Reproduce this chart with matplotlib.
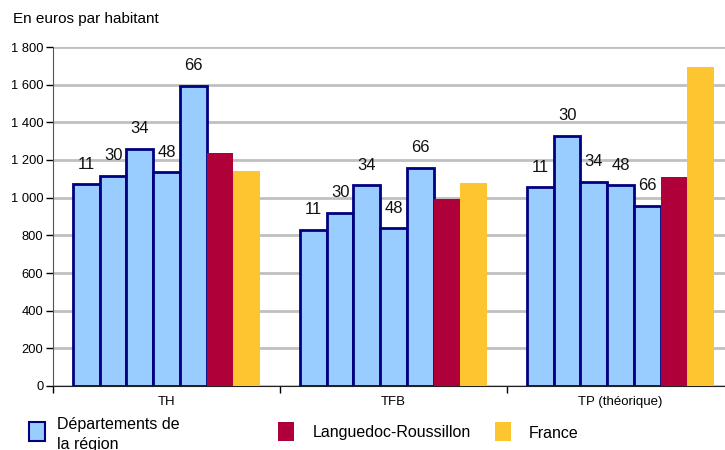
import numpy as np
import matplotlib
matplotlib.use("Agg")
import matplotlib.pyplot as plt
from matplotlib import ticker
from matplotlib.patches import Rectangle

# data
categories = ["TH", "TFB", "TP (théorique)"]
dept_codes = ["11", "30", "34", "48", "66"]
dept_values = [
    [1070, 1115, 1260, 1135, 1595],   # TH
    [830, 918, 1066, 838, 1157],      # TFB
    [1054, 1328, 1084, 1066, 956],    # TP
]
region_values = [1236, 994, 1110]
france_values = [1141, 1079, 1695]
legend_labels = ["Départements de\nla région", "Languedoc-Roussillon", "France"]

c_blue = "#99ccff"
c_navy = "#000080"
c_red = "#b0003a"
c_yellow = "#fdc52f"

plt.rcParams["font.family"] = ["Liberation Sans", "DejaVu Sans"]

fig = plt.figure(figsize=(7.25, 4.5), dpi=100)
ax = fig.add_axes([53/725, 64/450, 681/725, 339/450])

bw = 0.1176
start = (1 - 7*bw)/2
for i in range(len(categories)):
    x0 = i + start
    for j, v in enumerate(dept_values[i]):
        xc = x0 + (j + 0.5)*bw
        ax.bar(xc, v, width=bw, color=c_blue, edgecolor=c_navy, linewidth=2, zorder=3)
        ax.annotate(dept_codes[j], (xc, v), xytext=(0, 14.5), textcoords="offset points",
                    ha="center", va="center", fontsize=12, color="#111111")
    ax.bar(x0 + 5.5*bw, region_values[i], width=bw, color=c_red, linewidth=0, zorder=3)
    ax.bar(x0 + 6.5*bw, france_values[i], width=bw, color=c_yellow, linewidth=0, zorder=3)

ax.set_xlim(0, 3)
ax.set_ylim(0, 1800)
ax.yaxis.set_major_locator(ticker.MultipleLocator(200))
ax.yaxis.set_major_formatter(ticker.FuncFormatter(lambda v, p: "{:,}".format(int(v)).replace(",", " ")))
ax.grid(axis="y", color="#c0c0c0", linewidth=2, zorder=0)
ax.set_xticks([0, 1, 2, 3])
ax.set_xticklabels([])
ax.xaxis.set_minor_locator(ticker.FixedLocator([0.5, 1.5, 2.5]))
ax.xaxis.set_minor_formatter(ticker.FixedFormatter(categories))
ax.tick_params(axis="x", which="minor", length=0, labelsize=9.5, pad=7)
ax.tick_params(axis="x", which="major", length=5, width=1, direction="out")
ax.tick_params(axis="y", length=5, width=1, labelsize=9.3, pad=2)
for s in ["top", "right"]:
    ax.spines[s].set_visible(False)
ax.spines["left"].set_color("#555555")
ax.spines["bottom"].set_color("#222222")

fig.text(13/725, 1 - 19/450, "En euros par habitant", fontsize=11, va="center", ha="left")

# legend
legend_colors = [(c_blue, c_navy), (c_red, c_red), (c_yellow, c_yellow)]
legend_x = [29, 278, 495]
text_x = [57, 313, 529]
for (fc, ec), lx, tx, lab in zip(legend_colors, legend_x, text_x, legend_labels):
    fig.add_artist(Rectangle((lx/725, 1 - 441/450), 16/725, 19/450, transform=fig.transFigure,
                             facecolor=fc, edgecolor=ec, linewidth=1.5 if ec == c_navy else 0))
    if "\n" in lab:
        l1, l2 = lab.split("\n")
        fig.text(tx/725, 1 - 425/450, l1, fontsize=11.5, va="center", ha="left")
        fig.text(tx/725, 1 - 444/450, l2, fontsize=11.5, va="center", ha="left")
    else:
        fig.text(tx/725, 1 - 433/450, lab, fontsize=11.5, va="center", ha="left")

fig.savefig("out.png", dpi=100)
